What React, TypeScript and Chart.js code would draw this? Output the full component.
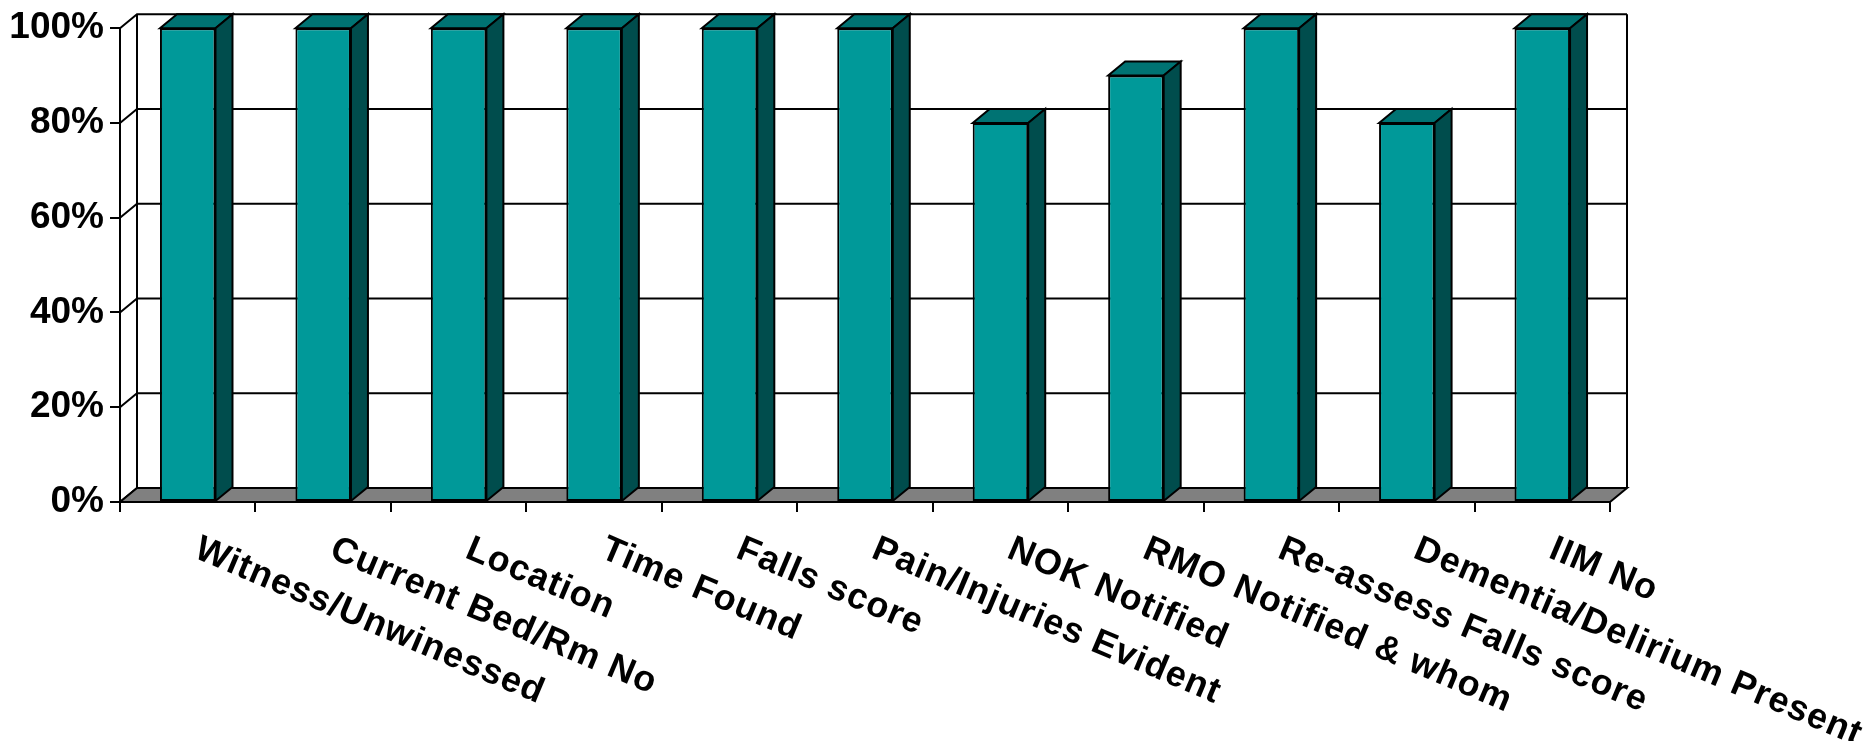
import React, { useEffect, useRef } from 'react';
import { Chart, registerables } from 'chart.js';

Chart.register(...registerables);

const categories: string[] = [
  'Witness/Unwinessed',
  'Current Bed/Rm No',
  'Location',
  'Time Found',
  'Falls score',
  'Pain/Injuries Evident',
  'NOK Notified',
  'RMO Notified & whom',
  'Re-assess Falls score',
  'Dementia/Delirium Present',
  'IIM No',
];
const compliance: number[] = [100, 100, 100, 100, 100, 100, 80, 90, 100, 80, 100];
const yTickValues: number[] = [0, 20, 40, 60, 80, 100];

const FRONT = '#009999';
const TOP = '#007373';
const SIDE = '#004d4d';
const FLOOR = '#808080';
const DX = 17;
const DY = -14;
const FONT = '"Liberation Sans", Arial, sans-serif';

const threeD = {
  id: 'threeD',
  beforeDatasetsDraw(chart: any) {
    const { ctx, chartArea: ca, scales } = chart;
    const y = scales.y;
    const L = ca.left;
    const R = ca.right;
    const T = y.getPixelForValue(100);
    const B = y.getPixelForValue(0);
    ctx.save();
    ctx.lineWidth = 2;
    ctx.strokeStyle = '#000';
    ctx.lineJoin = 'miter';
    // back wall
    ctx.fillStyle = '#fff';
    ctx.fillRect(L + DX, T + DY, R - L, B - T);
    // grid lines: left wall diagonal + back wall horizontal
    yTickValues.forEach((v) => {
      const yy = y.getPixelForValue(v);
      ctx.beginPath();
      ctx.moveTo(L, yy);
      ctx.lineTo(L + DX, yy + DY);
      ctx.lineTo(R + DX, yy + DY);
      ctx.stroke();
    });
    // back wall edges
    ctx.beginPath();
    ctx.moveTo(L + DX, T + DY);
    ctx.lineTo(L + DX, B + DY);
    ctx.moveTo(R + DX, T + DY);
    ctx.lineTo(R + DX, B + DY);
    ctx.stroke();
    // floor
    ctx.beginPath();
    ctx.moveTo(L, B);
    ctx.lineTo(R, B);
    ctx.lineTo(R + DX, B + DY);
    ctx.lineTo(L + DX, B + DY);
    ctx.closePath();
    ctx.fillStyle = FLOOR;
    ctx.fill();
    ctx.stroke();
    ctx.restore();
  },
  afterDatasetsDraw(chart: any) {
    const { ctx } = chart;
    const meta = chart.getDatasetMeta(0);
    ctx.save();
    ctx.lineWidth = 2;
    ctx.strokeStyle = '#000';
    ctx.lineJoin = 'miter';
    meta.data.forEach((bar: any) => {
      const p = bar.getProps(['x', 'y', 'width', 'base'], true);
      const l = p.x - p.width / 2;
      const r = p.x + p.width / 2;
      const t = p.y;
      const b = p.base;
      // top face
      ctx.beginPath();
      ctx.moveTo(l, t);
      ctx.lineTo(l + DX, t + DY);
      ctx.lineTo(r + DX, t + DY);
      ctx.lineTo(r, t);
      ctx.closePath();
      ctx.fillStyle = TOP;
      ctx.fill();
      ctx.stroke();
      // side face
      ctx.beginPath();
      ctx.moveTo(r, t);
      ctx.lineTo(r + DX, t + DY);
      ctx.lineTo(r + DX, b + DY);
      ctx.lineTo(r, b);
      ctx.closePath();
      ctx.fillStyle = SIDE;
      ctx.fill();
      ctx.stroke();
    });
    // rotated category labels
    const x = chart.scales.x;
    const B = chart.scales.y.getPixelForValue(0);
    ctx.fillStyle = '#000';
    ctx.font = `bold 36px ${FONT}`;
    ctx.textAlign = 'left';
    ctx.textBaseline = 'alphabetic';
    try {
      (ctx as any).letterSpacing = '1px';
    } catch (e) {}
    categories.forEach((label, i) => {
      const cx = x.getPixelForValue(i);
      ctx.save();
      ctx.translate(cx + 5, B + 55);
      ctx.rotate((23 * Math.PI) / 180);
      ctx.fillText(label, 0, 0);
      ctx.restore();
    });
    ctx.restore();
  },
};

export default function App() {
  const canvasRef = useRef<HTMLCanvasElement | null>(null);

  useEffect(() => {
    if (!canvasRef.current) return;
    const chart = new Chart(canvasRef.current, {
      type: 'bar',
      data: {
        labels: categories,
        datasets: [
          {
            data: compliance,
            backgroundColor: FRONT,
            borderColor: '#000',
            borderWidth: 2,
            borderSkipped: false,
            barPercentage: 0.41,
            categoryPercentage: 1,
          },
        ],
      },
      options: {
        animation: false,
        responsive: true,
        maintainAspectRatio: false,
        layout: { padding: { top: 23, right: 254, bottom: 0, left: 0 } },
        plugins: {
          legend: { display: false },
          tooltip: { enabled: false },
          title: { display: false },
        },
        scales: {
          x: {
            offset: true,
            grid: {
              offset: true,
              drawOnChartArea: false,
              drawTicks: true,
              tickLength: 10,
              color: '#000',
              lineWidth: 2,
            },
            border: { display: true, color: '#000', width: 2 },
            ticks: { display: false },
            afterFit: (s: any) => {
              s.height = 239;
            },
          },
          y: {
            min: 0,
            max: 100,
            afterBuildTicks: (s: any) => {
              s.ticks = yTickValues.map((v) => ({ value: v }));
            },
            grid: {
              drawOnChartArea: false,
              drawTicks: true,
              tickLength: 10,
              color: '#000',
              lineWidth: 2,
            },
            border: { display: true, color: '#000', width: 2 },
            ticks: {
              padding: 6,
              color: '#000',
              font: { family: FONT, size: 37, weight: 'bold' },
              callback: (v: any) => `${v}%`,
            },
            afterFit: (s: any) => {
              s.width = 120;
            },
          },
        },
      },
      plugins: [threeD],
    });
    return () => chart.destroy();
  }, []);

  return (
    <div style={{ position: 'absolute', left: 0, top: 0, width: 1864, height: 741, background: '#fff' }}>
      <canvas ref={canvasRef} />
    </div>
  );
}
